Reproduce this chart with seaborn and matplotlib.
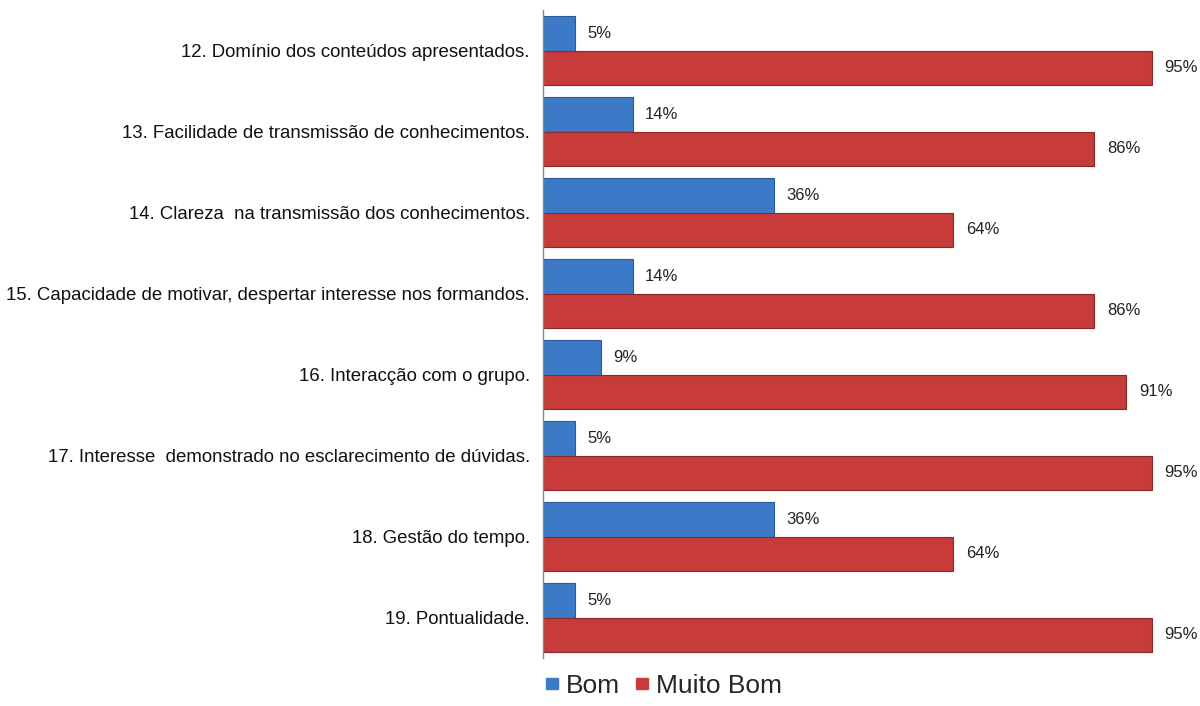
import matplotlib
matplotlib.use("Agg")
import matplotlib.pyplot as plt
import seaborn as sns
import pandas as pd

categories = [
    "12. Domínio dos conteúdos apresentados.",
    "13. Facilidade de transmissão de conhecimentos.",
    "14. Clareza  na transmissão dos conhecimentos.",
    "15. Capacidade de motivar, despertar interesse nos formandos.",
    "16. Interacção com o grupo.",
    "17. Interesse  demonstrado no esclarecimento de dúvidas.",
    "18. Gestão do tempo.",
    "19. Pontualidade.",
]
bom = [5, 14, 36, 14, 9, 5, 36, 5]
muito_bom = [95, 86, 64, 86, 91, 95, 64, 95]
series = ["Bom", "Muito Bom"]
colors = ["#3C7AC8", "#C73B3A"]

df = pd.DataFrame({
    "cat": categories * 2,
    "val": bom + muito_bom,
    "series": [series[0]] * len(categories) + [series[1]] * len(categories),
})

sns.set_theme(style="white")
plt.rcParams["font.family"] = ["Liberation Sans", "DejaVu Sans"]

fig = plt.figure(figsize=(12, 7.06), dpi=100)
ax = fig.add_axes([543 / 1200, 1 - 658 / 706, 641 / 1200, (658 - 10) / 706])

sns.barplot(data=df, y="cat", x="val", hue="series", orient="h",
            palette=colors, width=0.85, ax=ax, saturation=1,
            edgecolor=None, linewidth=0)

for c, edge in zip(ax.containers, ["#2A5A9A", "#8E2527"]):
    for p in c:
        p.set_edgecolor(edge)
        p.set_linewidth(0.8)
    ax.bar_label(c, labels=[f"{int(v)}%" for v in c.datavalues],
                 padding=9, fontsize=12, color="#222222")

ax.set_xlim(0, 100)
ax.set_xlabel("")
ax.set_ylabel("")
ax.set_xticks([])
ax.tick_params(axis="y", length=0, pad=9.5, labelsize=13.4, labelcolor="#111111")
for s in ["top", "right", "bottom"]:
    ax.spines[s].set_visible(False)
ax.spines["left"].set_color("#888888")
ax.spines["left"].set_linewidth(1)

ax.get_legend().remove()
handles = [plt.Rectangle((0, 0), 1, 1, color=col) for col in colors]
fig.legend(handles, series, loc="center", bbox_to_anchor=(664 / 1200, 1 - 686 / 706),
           ncol=2, frameon=False, fontsize=19, handlelength=0.45, handleheight=0.32,
           handletextpad=0.3, columnspacing=0.6)

fig.savefig("out.png", dpi=100)
